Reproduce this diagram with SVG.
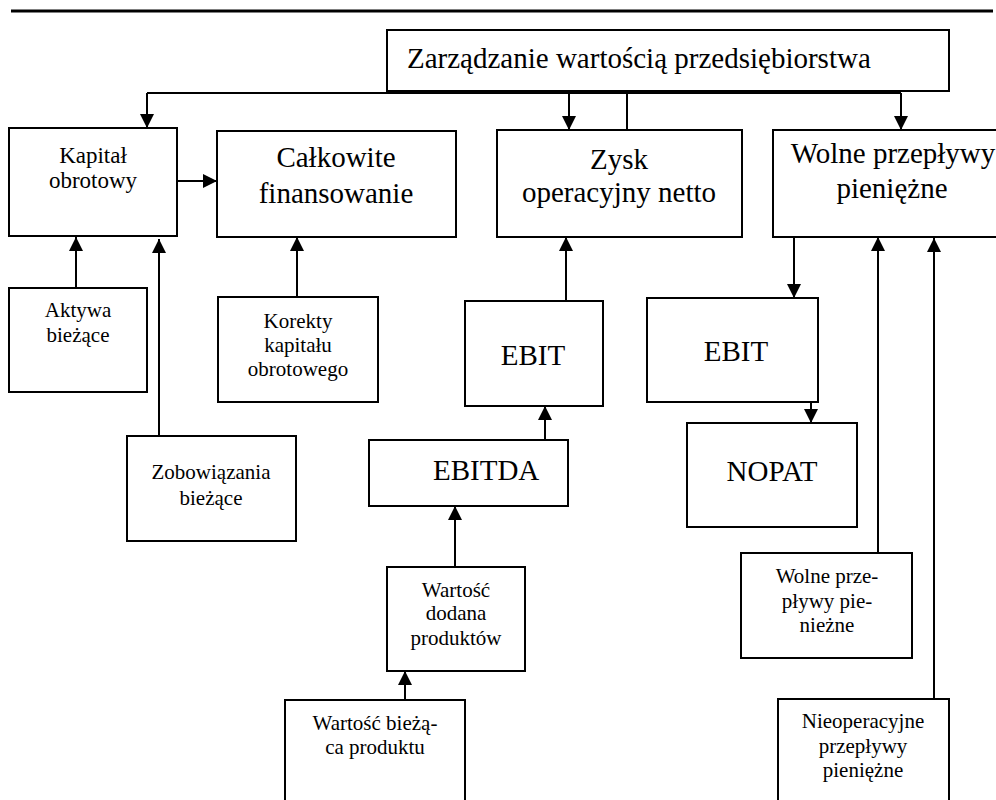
<svg xmlns="http://www.w3.org/2000/svg" width="996" height="800" viewBox="0 0 996 800">
<style>
  .box { fill: #fff; stroke: #000; stroke-width: 2; }
  .c { fill: none; stroke: #000; stroke-width: 2; }
  .ca { fill: none; stroke: #000; stroke-width: 2; marker-end: url(#ah); }
  text { font-family: "Liberation Serif", Tinos, "Times New Roman", Times, "DejaVu Serif", serif; fill: #000; }
  .big { font-size: 29px; text-anchor: middle; }
  .mid { font-size: 23px; text-anchor: middle; }
  .sm { font-size: 21px; text-anchor: middle; }
</style>
<defs>
  <marker id="ah" viewBox="0 0 10 10" refX="10" refY="5" markerWidth="15" markerHeight="14" markerUnits="userSpaceOnUse" orient="auto">
    <path d="M0,0 L10,5 L0,10 z" fill="#000"/>
  </marker>
</defs>
<rect width="996" height="800" fill="#fff"/>
<line x1="11" y1="11" x2="993" y2="11" stroke="#000" stroke-width="3"/>

<g id="connectors">
  <path class="c" d="M147,93 H901"/>
  <path class="ca" d="M147,93 V128"/>
  <path class="ca" d="M569,93 V130"/>
  <path class="c" d="M627,93 V130"/>
  <path class="ca" d="M901,93 V130"/>
  <path class="ca" d="M177,181 H217"/>
  <path class="ca" d="M76,288 V237"/>
  <path class="ca" d="M159,436 V239"/>
  <path class="ca" d="M297,297 V237"/>
  <path class="ca" d="M566,301 V237"/>
  <path class="ca" d="M545,440 V406"/>
  <path class="ca" d="M455,567 V506"/>
  <path class="ca" d="M405,700 V671"/>
  <path class="ca" d="M794,237 V298"/>
  <path class="ca" d="M811,402 V423"/>
  <path class="ca" d="M878,553 V237"/>
  <path class="ca" d="M934,699 V238"/>
</g>

<g id="n-top">
  <rect class="box" x="387" y="30" width="562" height="61"/>
  <text x="407" y="68" font-size="29">Zarządzanie wartością przedsiębiorstwa</text>
</g>
<g id="n-kapital">
  <rect class="box" x="9" y="128" width="168" height="108"/>
  <text class="mid" x="93" y="163">Kapitał</text>
  <text class="mid" x="93" y="188">obrotowy</text>
</g>
<g id="n-calkowite">
  <rect class="box" x="217" y="131" width="239" height="106"/>
  <text class="big" x="336" y="167">Całkowite</text>
  <text class="big" x="336" y="203">finansowanie</text>
</g>
<g id="n-zysk">
  <rect class="box" x="497" y="130" width="245" height="107"/>
  <text class="big" x="619" y="169" font-size="30">Zysk</text>
  <text class="big" x="619" y="202" font-size="30">operacyjny netto</text>
</g>
<g id="n-wolne">
  <rect class="box" x="773" y="130" width="226" height="107"/>
  <text class="big" x="893" y="163" font-size="25">Wolne przepływy</text>
  <text class="big" x="892" y="198" font-size="25.5">pieniężne</text>
</g>
<g id="n-aktywa">
  <rect class="box" x="9" y="288" width="138" height="104"/>
  <text class="sm" x="78" y="317">Aktywa</text>
  <text class="sm" x="78" y="342">bieżące</text>
</g>
<g id="n-korekty">
  <rect class="box" x="218" y="297" width="160" height="105"/>
  <text class="sm" x="298" y="328">Korekty</text>
  <text class="sm" x="298" y="352">kapitału</text>
  <text class="sm" x="298" y="376">obrotowego</text>
</g>
<g id="n-zobowiazania">
  <rect class="box" x="127" y="436" width="169" height="105"/>
  <text class="sm" x="211" y="479">Zobowiązania</text>
  <text class="sm" x="211" y="505">bieżące</text>
</g>
<g id="n-ebit1">
  <rect class="box" x="465" y="301" width="138" height="105"/>
  <text class="big" x="533" y="365">EBIT</text>
</g>
<g id="n-ebitda">
  <rect class="box" x="369" y="440" width="199" height="66"/>
  <text x="433" y="480" font-size="29">EBITDA</text>
</g>
<g id="n-wartosc-dodana">
  <rect class="box" x="387" y="567" width="138" height="104"/>
  <text class="sm" x="456" y="597">Wartość</text>
  <text class="sm" x="456" y="620">dodana</text>
  <text class="sm" x="456" y="645">produktów</text>
</g>
<g id="n-wartosc-biezaca">
  <rect class="box" x="285" y="700" width="180" height="110"/>
  <text class="sm" x="375" y="730">Wartość bieżą-</text>
  <text class="sm" x="375" y="754">ca produktu</text>
</g>
<g id="n-ebit2">
  <rect class="box" x="647" y="298" width="171" height="104"/>
  <text class="big" x="736" y="361">EBIT</text>
</g>
<g id="n-nopat">
  <rect class="box" x="687" y="423" width="170" height="104"/>
  <text class="big" x="772" y="481">NOPAT</text>
</g>
<g id="n-wolne2">
  <rect class="box" x="741" y="553" width="171" height="105"/>
  <text class="sm" x="827" y="583">Wolne prze-</text>
  <text class="sm" x="827" y="608">pływy pie-</text>
  <text class="sm" x="827" y="632">nieżne</text>
</g>
<g id="n-nieoperacyjne">
  <rect class="box" x="778" y="699" width="171" height="111"/>
  <text class="sm" x="863" y="728">Nieoperacyjne</text>
  <text class="sm" x="863" y="753">przepływy</text>
  <text class="sm" x="863" y="777">pieniężne</text>
</g>
</svg>
